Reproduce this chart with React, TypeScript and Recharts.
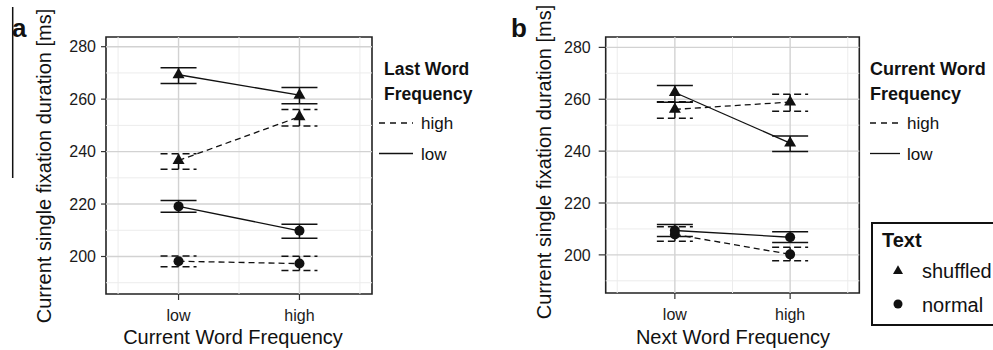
import { ComposedChart, Line, ErrorBar, XAxis, YAxis, ReferenceLine, ReferenceArea } from "recharts";

const FONT = "'Liberation Sans', Arial, sans-serif";
const INK = "#111";

const categories = ["low", "high"];
const catPos = [1, 2];

const majorY = [200, 220, 240, 260, 280];
const minorY = [190, 210, 230, 250, 270];
const majorX = [1, 2];
const minorX = [0.5, 1.5, 2.5];

// panel a: x = current word frequency, line type = last word frequency
const aShufLowMean = [269.3, 261.5];
const aShufLowLo = [266.0, 258.2];
const aShufLowHi = [272.0, 264.4];
const aShufHighMean = [236.6, 253.3];
const aShufHighLo = [233.3, 249.8];
const aShufHighHi = [239.2, 256.1];
const aNormLowMean = [219.1, 209.8];
const aNormLowLo = [216.9, 207.0];
const aNormLowHi = [221.4, 212.3];
const aNormHighMean = [198.2, 197.3];
const aNormHighLo = [196.1, 194.7];
const aNormHighHi = [200.2, 200.1];

// panel b: x = next word frequency, line type = current word frequency
const bShufLowMean = [262.6, 243.1];
const bShufLowLo = [258.8, 239.9];
const bShufLowHi = [265.3, 245.8];
const bShufHighMean = [256.1, 258.9];
const bShufHighLo = [252.7, 255.4];
const bShufHighHi = [259.0, 261.9];
const bNormLowMean = [209.4, 206.8];
const bNormLowLo = [207.1, 204.8];
const bNormLowHi = [211.7, 208.9];
const bNormHighMean = [207.9, 200.2];
const bNormHighLo = [205.3, 197.7];
const bNormHighHi = [210.8, 202.9];

type Series = { key: string; mean: number[]; lo: number[]; hi: number[]; dashed: boolean; shape: "tri" | "dot" };

const seriesA: Series[] = [
  { key: "normHigh", mean: aNormHighMean, lo: aNormHighLo, hi: aNormHighHi, dashed: true, shape: "dot" },
  { key: "normLow", mean: aNormLowMean, lo: aNormLowLo, hi: aNormLowHi, dashed: false, shape: "dot" },
  { key: "shufHigh", mean: aShufHighMean, lo: aShufHighLo, hi: aShufHighHi, dashed: true, shape: "tri" },
  { key: "shufLow", mean: aShufLowMean, lo: aShufLowLo, hi: aShufLowHi, dashed: false, shape: "tri" },
];

const seriesB: Series[] = [
  { key: "normHigh", mean: bNormHighMean, lo: bNormHighLo, hi: bNormHighHi, dashed: true, shape: "dot" },
  { key: "normLow", mean: bNormLowMean, lo: bNormLowLo, hi: bNormLowHi, dashed: false, shape: "dot" },
  { key: "shufHigh", mean: bShufHighMean, lo: bShufHighLo, hi: bShufHighHi, dashed: true, shape: "tri" },
  { key: "shufLow", mean: bShufLowMean, lo: bShufLowLo, hi: bShufLowHi, dashed: false, shape: "tri" },
];

const buildRows = (series: Series[]) =>
  catPos.map((x, i) => {
    const r: Record<string, any> = { x };
    series.forEach((s) => {
      r[s.key] = s.mean[i];
      r[s.key + "Err"] = [s.mean[i] - s.lo[i], s.hi[i] - s.mean[i]];
    });
    return r;
  });

function triPath(cx: number, cy: number, a: number) {
  const h = a * 0.866;
  return `M${cx},${cy - (2 * h) / 3}L${cx + a / 2},${cy + h / 3}L${cx - a / 2},${cy + h / 3}Z`;
}

const renderTri = (p: any) => {
  if (p.cx == null || p.cy == null) return <g key={p.index} />;
  return <path key={p.index} d={triPath(p.cx, p.cy, 12)} fill={INK} />;
};

const renderDot = (p: any) => {
  if (p.cx == null || p.cy == null) return <g key={p.index} />;
  return <circle key={p.index} cx={p.cx} cy={p.cy} r={5} fill={INK} />;
};

type PanelProps = {
  series: Series[];
  left: number;
  width: number;
  yWidth: number;
  marginRight: number;
  domain: [number, number];
  xAxisHeight: number;
  yTickSize: number;
  yTickMargin: number;
};

function Panel({ series, left, width, yWidth, marginRight, domain, xAxisHeight, yTickSize, yTickMargin }: PanelProps) {
  const rows = buildRows(series);
  return (
    <div style={{ position: "absolute", left, top: 0 }}>
      <ComposedChart width={width} height={350} data={rows} margin={{ top: 37, right: marginRight, left: 0, bottom: 0 }}>
        <XAxis
          dataKey="x"
          type="number"
          domain={[0.4, 2.6]}
          ticks={catPos}
          allowDataOverflow
          tickFormatter={(v: number) => categories[catPos.indexOf(v)] ?? ""}
          axisLine={false}
          tickLine={{ stroke: "#333", strokeWidth: 1.2 }}
          tickSize={6}
          tickMargin={10}
          height={xAxisHeight}
          tick={{ fill: "#1a1a1a", fontSize: 16, fontFamily: FONT }}
        />
        <YAxis
          type="number"
          domain={domain}
          ticks={majorY}
          allowDataOverflow
          axisLine={false}
          tickLine={{ stroke: "#333", strokeWidth: 1.2 }}
          tickSize={yTickSize}
          tickMargin={yTickMargin}
          width={yWidth}
          tick={{ fill: "#1a1a1a", fontSize: 16, fontFamily: FONT }}
        />
        {minorY.map((v) => (
          <ReferenceLine key={"my" + v} y={v} stroke="#ececec" strokeWidth={1} />
        ))}
        {minorX.map((v) => (
          <ReferenceLine key={"mx" + v} x={v} stroke="#ececec" strokeWidth={1} />
        ))}
        {majorY.map((v) => (
          <ReferenceLine key={"Y" + v} y={v} stroke="#d2d2d2" strokeWidth={1.4} />
        ))}
        {majorX.map((v) => (
          <ReferenceLine key={"X" + v} x={v} stroke="#d2d2d2" strokeWidth={1.4} />
        ))}
        {series.map((s) => (
          <Line
            key={s.key}
            dataKey={s.key}
            type="linear"
            stroke={INK}
            strokeWidth={1.3}
            strokeDasharray={s.dashed ? "6 4" : undefined}
            dot={s.shape === "tri" ? renderTri : renderDot}
            activeDot={false}
            isAnimationActive={false}
          >
            <ErrorBar
              dataKey={s.key + "Err"}
              direction="y"
              width={18}
              stroke={INK}
              strokeWidth={1.5}
              strokeDasharray={s.dashed ? "7 4" : undefined}
            />
          </Line>
        ))}
        <ReferenceArea
          x1={0.4}
          x2={2.6}
          y1={domain[0]}
          y2={domain[1]}
          fill="none"
          fillOpacity={0}
          stroke="#222"
          strokeWidth={1.6}
          ifOverflow="visible"
        />
      </ComposedChart>
    </div>
  );
}

type LegendProps = { titleX: number; lineX1: number; lineX2: number; labelX: number; title1: string; title2: string; size: number };

function LineLegend({ titleX, lineX1, lineX2, labelX, title1, title2, size }: LegendProps) {
  return (
    <g fontFamily={FONT} fill={INK}>
      <text x={titleX} y={75} fontWeight="bold" fontSize={size}>{title1}</text>
      <text x={titleX} y={100} fontWeight="bold" fontSize={size}>{title2}</text>
      <line x1={lineX1} x2={lineX2} y1={123} y2={123} stroke={INK} strokeWidth={1.3} strokeDasharray="6 5" />
      <text x={labelX} y={129} fontSize={17}>high</text>
      <line x1={lineX1} x2={lineX2} y1={153.5} y2={153.5} stroke={INK} strokeWidth={1.3} />
      <text x={labelX} y={160} fontSize={17}>low</text>
    </g>
  );
}

export default function App() {
  return (
    <div style={{ position: "absolute", left: 0, top: 0, width: 993, height: 350, background: "#fff", overflow: "hidden" }}>
      <Panel
        series={seriesA}
        left={0}
        width={380}
        yWidth={106}
        marginRight={8}
        domain={[185.7, 283.7]}
        xAxisHeight={56}
        yTickSize={5}
        yTickMargin={5}
      />
      <Panel
        series={seriesB}
        left={490}
        width={380}
        yWidth={115.7}
        marginRight={10.7}
        domain={[185.3, 284]}
        xAxisHeight={57}
        yTickSize={7}
        yTickMargin={8}
      />
      <svg
        width={993}
        height={350}
        style={{ position: "absolute", left: 0, top: 0, pointerEvents: "none" }}
        fontFamily={FONT}
      >
        <line x1={12.7} x2={12.7} y1={7} y2={178} stroke={INK} strokeWidth={1.5} />
        <text x={12} y={37} fontSize={26} fontWeight="bold" fill={INK}>a</text>
        <text x={511} y={37} fontSize={26} fontWeight="bold" fill={INK}>b</text>

        <text transform="translate(51,166) rotate(-90)" textAnchor="middle" fontSize={20} fill={INK}>
          Current single fixation duration [ms]
        </text>
        <text transform="translate(551,162) rotate(-90)" textAnchor="middle" fontSize={20} fill={INK}>
          Current single fixation duration [ms]
        </text>
        <text x={233} y={344} textAnchor="middle" fontSize={20} fill={INK}>Current Word Frequency</text>
        <text x={733} y={344} textAnchor="middle" fontSize={20} fill={INK}>Next Word Frequency</text>

        <LineLegend titleX={384} lineX1={379} lineX2={413} labelX={421} title1="Last Word" title2="Frequency" size={17.5} />
        <LineLegend titleX={870} lineX1={870} lineX2={900} labelX={907} title1="Current Word" title2="Frequency" size={18} />

        <rect x={872} y={223} width={140} height={102} fill="#fff" stroke={INK} strokeWidth={2} />
        <text x={882} y={247} fontSize={20} fontWeight="bold" fill={INK}>Text</text>
        <path d={triPath(898, 271, 10)} fill={INK} />
        <text x={922} y={278} fontSize={20} fill={INK}>shuffled</text>
        <circle cx={898} cy={304} r={4.5} fill={INK} />
        <text x={922} y={312} fontSize={20} fill={INK}>normal</text>
      </svg>
    </div>
  );
}
